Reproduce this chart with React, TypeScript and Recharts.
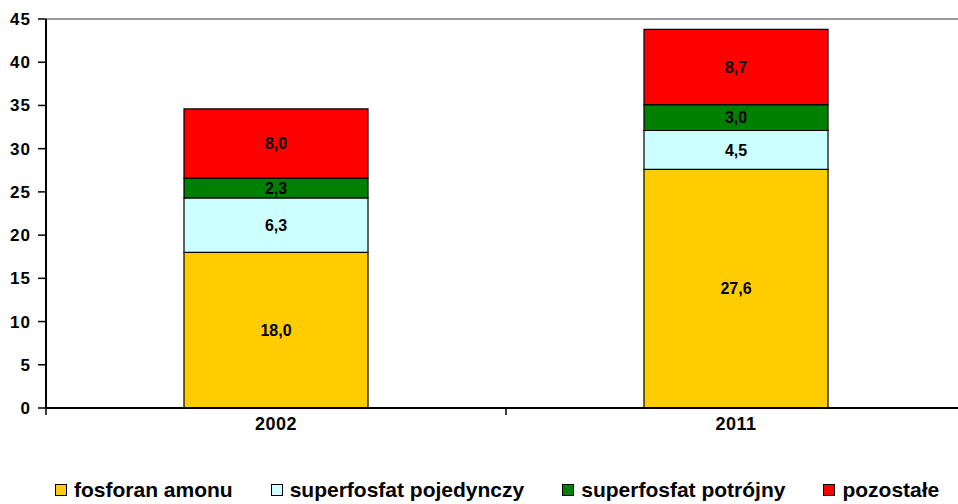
import { BarChart, Bar, XAxis, YAxis, ReferenceLine, LabelList, Legend } from 'recharts'

const years = ['2002', '2011']
const fosforanAmonu = [18.0, 27.6]
const superfosfatPojedynczy = [6.3, 4.5]
const superfosfatPotrojny = [2.3, 3.0]
const pozostale = [8.0, 8.7]
const yTicks = [0, 5, 10, 15, 20, 25, 30, 35, 40, 45]

const series = [
  { key: 'fosforan', name: 'fosforan amonu', color: '#FFCC00' },
  { key: 'pojedynczy', name: 'superfosfat pojedynczy', color: '#CCFFFF' },
  { key: 'potrojny', name: 'superfosfat potrójny', color: '#008000' },
  { key: 'pozostale', name: 'pozostałe', color: '#FF0000' },
]

const data = years.map((year, i) => ({
  year,
  fosforan: fosforanAmonu[i],
  pojedynczy: superfosfatPojedynczy[i],
  potrojny: superfosfatPotrojny[i],
  pozostale: pozostale[i],
}))

const FONT = '"Liberation Sans", Arial, sans-serif'
const pl = (v: number) => v.toFixed(1).replace('.', ',')

const XTick = (props: any) => {
  const { x, y, payload, index, visibleTicksCount } = props
  const off = payload.offset ?? 0
  const last = index === (visibleTicksCount ?? 2) - 1
  return (
    <g>
      <line x1={x - off} x2={x - off} y1={y - 8} y2={y - 1} stroke="#000" strokeWidth={1.5} />
      {last && <line x1={x + off} x2={x + off} y1={y - 8} y2={y - 1} stroke="#000" strokeWidth={1.5} />}
      <text
        x={x}
        y={y + 14}
        textAnchor="middle"
        fontFamily={FONT}
        fontWeight="bold"
        fontSize={18}
        letterSpacing={0.5}
        fill="#000"
      >
        {payload.value}
      </text>
    </g>
  )
}

const LegendContent = () => (
  <div
    style={{
      display: 'flex',
      alignItems: 'center',
      gap: 38,
      paddingLeft: 55,
      paddingTop: 20,
      fontFamily: FONT,
      fontWeight: 'bold',
      fontSize: 21,
      color: '#000',
    }}
  >
    {series.map((s) => (
      <div key={s.key} style={{ display: 'flex', alignItems: 'center', whiteSpace: 'nowrap' }}>
        <span
          style={{
            display: 'inline-block',
            width: 10,
            height: 10,
            background: s.color,
            border: '1px solid #000',
            marginRight: 7,
          }}
        />
        {s.name}
      </div>
    ))}
  </div>
)

export default function App() {
  return (
    <div style={{ position: 'absolute', left: 0, top: 0, width: 958, height: 504, overflow: 'hidden', background: '#fff' }}>
      <BarChart width={974} height={504} data={data} margin={{ top: 19, right: 8, bottom: 0, left: 0 }}>
        <ReferenceLine y={45} stroke="#9a9a9a" strokeWidth={2} />
        <XAxis
          dataKey="year"
          axisLine={{ stroke: '#000', strokeWidth: 2 }}
          tickLine={false}
          tick={<XTick />}
          height={50}
        />
        <YAxis
          domain={[0, 45]}
          ticks={yTicks}
          interval={0}
          width={46}
          axisLine={{ stroke: '#000', strokeWidth: 2 }}
          tickLine={{ stroke: '#000', strokeWidth: 1.5 }}
          tickSize={8}
          tickMargin={7}
          tick={{ fontFamily: FONT, fontWeight: 'bold', fontSize: 17, fill: '#000', letterSpacing: 1 }}
        />
        <Legend verticalAlign="bottom" height={46} content={<LegendContent />} wrapperStyle={{ left: 0, width: 958 }} />
        {series.map((s) => (
          <Bar
            key={s.key}
            dataKey={s.key}
            name={s.name}
            stackId="a"
            fill={s.color}
            stroke="#000"
            strokeWidth={1.2}
            barSize={184}
            isAnimationActive={false}
          >
            <LabelList
              dataKey={s.key}
              position="center"
              formatter={(v: any) => pl(Number(v))}
              style={{ fontFamily: FONT, fontWeight: 'bold', fontSize: 16, fill: '#000' }}
            />
          </Bar>
        ))}
      </BarChart>
    </div>
  )
}
